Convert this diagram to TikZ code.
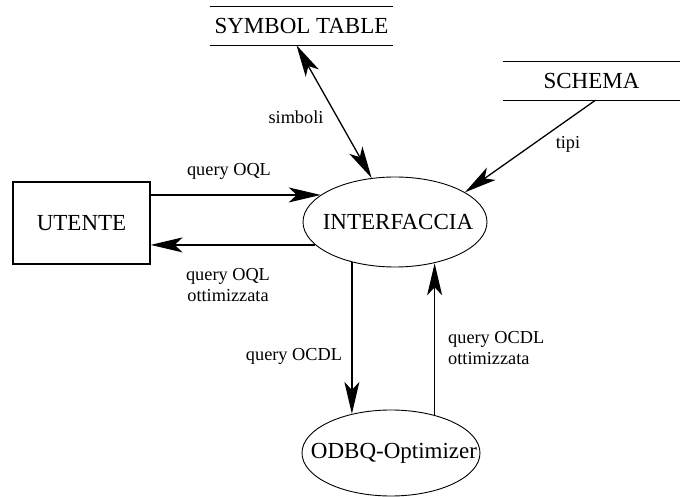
\documentclass[tikz,border=0pt]{standalone}
\usepackage{fontspec}
\setmainfont{Liberation Serif}
\usetikzlibrary{arrows.meta,shapes.geometric}
\tikzset{
  bigfont/.style={font=\fontsize{23}{27}\selectfont},
  smallfont/.style={font=\fontsize{18.3}{21.5}\selectfont},
  store/.style={bigfont, minimum height=38pt, inner sep=0pt},
  storeline/.style={line width=1.3pt},
  proc/.style={ellipse, draw, line width=0.9pt, inner sep=0pt, bigfont},
  actor/.style={rectangle, draw, line width=1.3pt, bigfont, inner sep=0pt},
  headtip/.style={Stealth[length=32pt,width=15pt,inset=8pt]},
  flow/.style={line width=1.3pt, -{Stealth[length=32pt,width=15pt,inset=8pt]}},
  bothflow/.style={line width=1.3pt, {Stealth[length=32pt,width=15pt,inset=8pt]}-{Stealth[length=32pt,width=15pt,inset=8pt]}},
  lbl/.style={smallfont, inner sep=0pt}
}
\begin{document}
\begin{tikzpicture}[x=1pt,y=-1pt]
\useasboundingbox (0,0) rectangle (681,497);

% data stores
\node[store, minimum width=183pt] (st) at (301.5,26) {SYMBOL TABLE};
\draw[storeline] (st.north west) -- (st.north east) (st.south west) -- (st.south east);
\node[store, minimum width=177pt] (sc) at (591.5,81) {SCHEMA};
\draw[storeline] (sc.north west) -- (sc.north east) (sc.south west) -- (sc.south east);

% external entity
\node[actor, minimum width=137pt, minimum height=82pt] (ut) at (81.5,223) {UTENTE};

% processes
\node[proc, minimum width=184pt, minimum height=90pt] (intf) at (395,222) {\makebox[0pt]{\hspace*{6pt}INTERFACCIA}};
\node[proc, minimum width=178pt, minimum height=86pt] (od) at (391,453) {\makebox[0pt]{\hspace*{6pt}ODBQ-Optimizer}};

% flows
\draw[bothflow] ([xshift=-5pt]st.south) -- (intf.118);
\draw[flow] ([xshift=4pt]sc.south) -- (intf.23);
\draw[flow] (intf.160.7 -| ut.east) -- (intf.160.7);
\draw[flow] (intf.196.3) -- (intf.196.3 -| ut.east);
\draw[flow] (intf.223.6) -- (intf.223.6 |- od.135.2);
\draw[flow] (od.41.2) -- (od.41.2 |- intf.313.6);

% flow labels
\node[lbl] (lsim) at (296,117) {simboli};
\node[lbl] (ltip) at (568,144) {tipi};
\node[lbl] (loql) at (229,171) {query OQL};
\node[lbl, align=center] (loqlo) at (228,285) {query OQL\\ottimizzata};
\node[lbl] (locdl) at (294,356) {query OCDL};
\node[lbl, align=left, anchor=west] (locdlo) at (448,348) {query OCDL\\ottimizzata};
\end{tikzpicture}
\end{document}
